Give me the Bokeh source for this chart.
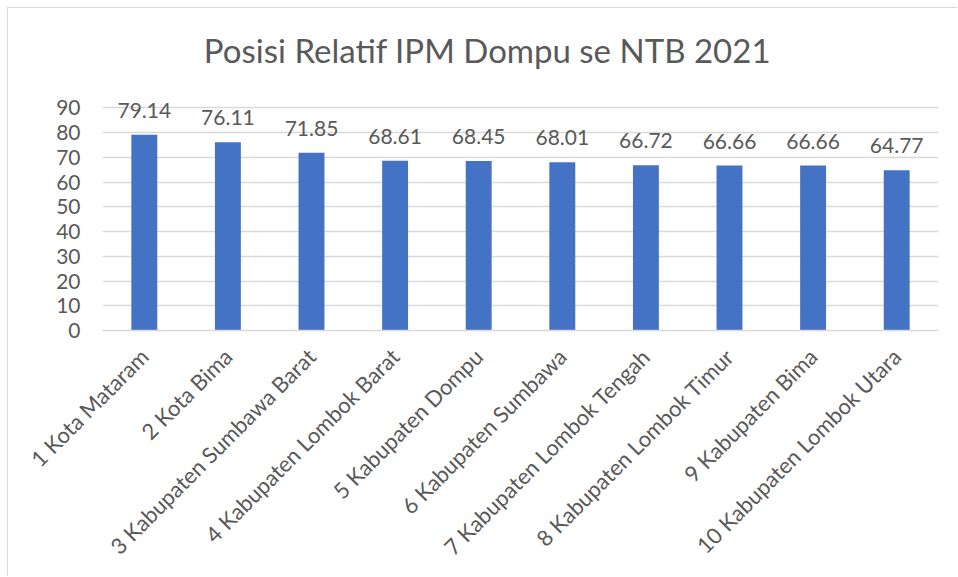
import math
from bokeh.plotting import figure
from bokeh.models import ColumnDataSource, FixedTicker, Label, FactorRange, Range1d
from bokeh.core.properties import value
from bokeh.embed import file_html
from bokeh.resources import INLINE

categories = ["1 Kota Mataram", "2 Kota Bima", "3 Kabupaten Sumbawa Barat",
              "4 Kabupaten Lombok Barat", "5 Kabupaten Dompu", "6 Kabupaten Sumbawa",
              "7 Kabupaten Lombok Tengah", "8 Kabupaten Lombok Timur",
              "9 Kabupaten Bima", "10 Kabupaten Lombok Utara"]
ipm = [79.14, 76.11, 71.85, 68.61, 68.45, 68.01, 66.72, 66.66, 66.66, 64.77]
y_ticks = [0, 10, 20, 30, 40, 50, 60, 70, 80, 90]
title_text = "Posisi Relatif IPM Dompu se NTB 2021"

FONT = "Lato"
TXT = "#595959"

src = ColumnDataSource(dict(cat=categories, val=ipm, lab=["%.2f" % v for v in ipm]))

# the frame extends above the 90 gridline so the title can sit inside it
p = figure(x_range=FactorRange(*categories, range_padding=0), y_range=Range1d(0, 120),
           width=950, height=569, output_backend="svg", toolbar_location=None,
           min_border_left=94, min_border_right=20, min_border_top=25, min_border_bottom=247)
p.title = None

p.vbar(x="cat", top="val", width=0.31, source=src, fill_color="#4472C4", line_color=None)
p.text(x="cat", y="val", text="lab", source=src, text_align="center", text_baseline="bottom",
       y_offset=-17, text_font=value(FONT), text_font_size="21px", text_color=TXT)

title = Label(x=385, y=281, x_units="screen", y_units="screen", text=title_text,
              text_align="center", text_baseline="middle", text_font=FONT,
              text_font_size="33px", text_color=TXT)
p.add_layout(title)

p.outline_line_color = None
p.background_fill_color = "white"
p.border_fill_color = "white"
p.xgrid.grid_line_color = None
p.ygrid.grid_line_color = "#d9d9d9"
p.ygrid.grid_line_width = 1.3
p.yaxis.ticker = FixedTicker(ticks=y_ticks)
p.yaxis.axis_line_color = None
p.yaxis.major_tick_line_color = None
p.yaxis.minor_tick_line_color = None
p.yaxis.major_tick_out = 0
p.yaxis.major_tick_in = 0
p.yaxis.major_label_standoff = 22
p.yaxis.major_label_text_font = FONT
p.yaxis.major_label_text_font_size = "21px"
p.yaxis.major_label_text_color = TXT

p.xaxis.axis_line_color = "#d9d9d9"
p.xaxis.axis_line_width = 1.3
p.xaxis.major_tick_line_color = None
p.xaxis.major_tick_out = 0
p.xaxis.major_tick_in = 0
p.xaxis.major_label_standoff = 22
p.xaxis.major_label_orientation = math.pi / 4
p.xaxis.major_label_text_font = FONT
p.xaxis.major_label_text_font_size = "22px"
p.xaxis.major_label_text_color = TXT

p.styles = {"margin-left": "7px", "margin-top": "7px",
            "border-left": "1px solid #d9d9d9", "border-top": "1px solid #d9d9d9"}

open("out.html", "w").write(file_html(p, INLINE))
